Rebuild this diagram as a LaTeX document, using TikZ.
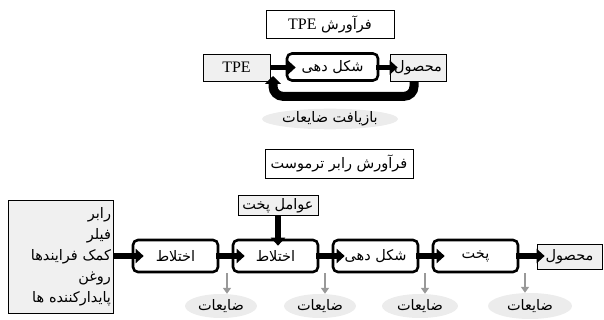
\documentclass[tikz,border=0pt]{standalone}
\usepackage{fontspec}
\setmainfont{Liberation Serif}
\newfontfamily\arabicfont[Script=Arabic]{DejaVu Sans}
\TeXXeTstate=1
\usetikzlibrary{arrows.meta}
\usetikzlibrary{shapes.geometric}
\newcommand{\fatext}[1]{\beginR#1\endR}

\begin{document}
\begin{tikzpicture}[x=1pt, y=-1pt,
    every node/.style={font=\arabicfont\fontsize{14.5}{17}\selectfont},
    procbox/.style={draw, rounded corners=5pt, line width=2.6pt, fill=white, minimum width=85pt, minimum height=32pt, inner sep=1pt},
    graybox/.style={draw, line width=0.7pt, fill=gray!12, inner sep=1pt},
    titlebox/.style={draw, line width=0.7pt, fill=white, inner sep=2pt},
    waste/.style={ellipse, fill=gray!15, inner sep=0pt},
    flow/.style={line width=5.5pt, -{Triangle[length=8pt,width=14pt]}},
    recloop/.style={line width=9pt, rounded corners=10pt, -{Triangle[length=8pt,width=16pt]}},
    loss/.style={gray!80, line width=2.5pt, -{Triangle[length=6pt,width=8pt]}}]

    \useasboundingbox (0,0) rectangle (604,320);

    % TPE process
    \node[titlebox, minimum width=128pt, minimum height=28pt] (title1) at (330,24)
        {\fatext{فرآورش \beginL{\rmfamily\fontsize{16}{18}\selectfont TPE}\endL}};
    \node[graybox, minimum width=67pt, minimum height=27pt] (tpe) at (236.5,67.5)
        {\rmfamily\fontsize{16}{18}\selectfont TPE};
    \node[procbox, minimum width=91pt, minimum height=27pt] (shape1) at (332.5,67)
        {\fatext{شکل دهی}};
    \node[graybox, minimum width=56pt, minimum height=27pt] (prod1) at (418,67.5)
        {\fatext{محصول}};
    \node[waste, minimum width=136pt, minimum height=20pt] (recycle) at (330,119)
        {\fatext{بازیافت ضایعات}};

    \draw[flow] (tpe.east) -- ([xshift=10pt]tpe.east -| shape1.west);
    \draw[flow] ([xshift=-3pt]shape1.east |- prod1.west) -- ([xshift=8pt]prod1.west);

    % recycle loop
    \coordinate (rec) at (273,76);
    \draw[recloop] ([xshift=-4pt]prod1.south) -- ++(0,15) -| (rec);

    % thermoset rubber process
    \node[titlebox, minimum width=148pt, minimum height=29pt] (title2) at (339,163.5)
        {\fatext{فرآورش رابر ترموست}};
    \node[graybox, minimum width=80pt, minimum height=20pt] (agents) at (278,205.5)
        {\fatext{عوامل پخت}};
    \node[graybox, minimum width=105pt, minimum height=113pt, text width=101pt, align=right,
          font=\arabicfont\fontsize{14.5}{21}\selectfont] (inputs) at (60.5,256.5)
        {\fatext{رابر}\\ \fatext{فیلر}\\ \fatext{کمک فرایندها}\\ \fatext{روغن}\\ \fatext{پایدارکننده ها}};

    \node[procbox] (mix1) at (175.5,256) {\fatext{اختلاط}};
    \node[procbox] (mix2) at (275.5,256) {\fatext{اختلاط}};
    \node[procbox] (shape2) at (375.5,256) {\fatext{شکل دهی}};
    \node[procbox] (cure) at (475.5,256) {\fatext{پخت}};
    \node[graybox, minimum width=65pt, minimum height=25pt] (prod2) at (569.5,257) {\fatext{محصول}};

    % waste
    \node[waste, minimum width=72pt, minimum height=24pt] (waste1) at (221,306) {\fatext{ضایعات}};
    \node[waste, minimum width=72pt, minimum height=24pt] (waste2) at (320,306) {\fatext{ضایعات}};
    \node[waste, minimum width=76pt, minimum height=24pt] (waste3) at (420,306) {\fatext{ضایعات}};
    \node[waste, minimum width=84pt, minimum height=26pt] (waste4) at (530,306) {\fatext{ضایعات}};

    \coordinate (w1) at (227,273);
    \coordinate (w2) at (325,273);
    \coordinate (w3) at (425,273);
    \coordinate (w4) at (525,273);
    \draw[loss] (w1) -- (w1 |- waste1.north);
    \draw[loss] (w2) -- (w2 |- waste2.north);
    \draw[loss] (w3) -- (w3 |- waste3.north);
    \draw[loss] (w4) -- (w4 |- waste4.north);

    \draw[flow] (inputs.east |- mix1.west) -- ([xshift=12pt]mix1.west);
    \draw[flow] ([xshift=-3pt]mix1.east) -- ([xshift=13pt]mix2.west);
    \draw[flow] ([xshift=-3pt]mix2.east) -- ([xshift=13pt]shape2.west);
    \draw[flow] ([xshift=-3pt]shape2.east) -- ([xshift=13pt]cure.west);
    \draw[flow] ([xshift=-3pt]cure.east) -- ([xshift=8pt]cure.east -| prod2.west);
    \draw[flow] (agents.south) -- ([yshift=-7pt]agents.south |- mix2.north);

\end{tikzpicture}
\end{document}
